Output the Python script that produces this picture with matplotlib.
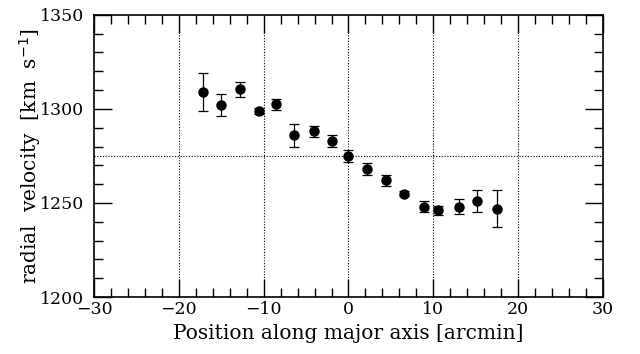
import numpy as np
import matplotlib.pyplot as plt
from matplotlib.ticker import MultipleLocator

# Data
position = [-17.1, -15.0, -12.8, -10.5, -8.6, -6.4, -4.1, -2.0, 0.0,
            2.2, 4.4, 6.6, 8.9, 10.6, 13.0, 15.2, 17.5]
velocity = [1309, 1302, 1310.5, 1299, 1302.5, 1286, 1288, 1283, 1275,
            1268, 1262, 1255, 1248, 1246, 1248, 1251, 1247]
vel_err = [10, 6, 4, 1.5, 3, 6, 3, 3, 3,
           3, 3, 1.5, 3, 2.5, 4, 6, 10]
systemic = 1275
grid_x = [-20, -10, 0, 10, 20]

plt.rcParams['font.family'] = ['DejaVu Serif']

fig = plt.figure(figsize=(6.4, 3.54), dpi=100)
ax = fig.add_axes([0.147, 0.161, 0.795, 0.797])

# dotted guide lines
for gx in grid_x:
    ax.axvline(gx, color="black", linewidth=0.8, linestyle=(0, (1, 1.5)), zorder=1)
ax.axhline(systemic, color="black", linewidth=0.8, linestyle=(0, (1, 1.5)), zorder=1)

ax.errorbar(position, velocity, yerr=vel_err, fmt="o", color="black",
            markersize=6.5, elinewidth=0.9, capsize=3.5, capthick=0.9, zorder=3)

ax.set_xlim(-30, 30)
ax.set_ylim(1200, 1350)
ax.xaxis.set_major_locator(MultipleLocator(10))
ax.xaxis.set_minor_locator(MultipleLocator(2))
ax.yaxis.set_major_locator(MultipleLocator(50))
ax.yaxis.set_minor_locator(MultipleLocator(10))
ax.tick_params(which="both", direction="in", top=True, right=True,
               labelsize=12.5, width=1)
ax.tick_params(which="major", length=13)
ax.tick_params(which="minor", length=6.5)
ax.tick_params(axis="y", which="both", pad=7)
ax.tick_params(axis="x", which="both", pad=3)
for s in ax.spines.values():
    s.set_linewidth(1.2)

ax.set_xlabel("Position along major axis [arcmin]", fontsize=14.5, labelpad=4)
ax.set_ylabel(r"radial  velocity  [km  s$^{-1}$]", fontsize=14.5, labelpad=-2)

fig.savefig("out.png", dpi=100)
